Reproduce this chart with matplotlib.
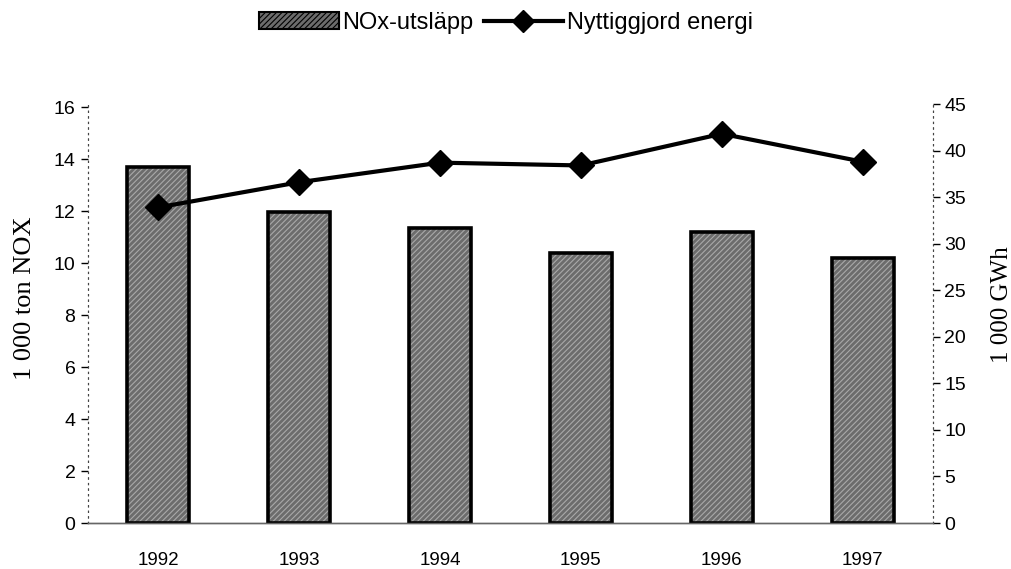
import matplotlib
matplotlib.use("Agg")
import matplotlib.pyplot as plt
from matplotlib.patches import Patch
from matplotlib.lines import Line2D
import numpy as np

years = ["1992", "1993", "1994", "1995", "1996", "1997"]
nox = [13.7, 11.95, 11.35, 10.4, 11.2, 10.2]
energy = [33.9, 36.6, 38.7, 38.4, 41.8, 38.8]
left_ticks = [0, 2, 4, 6, 8, 10, 12, 14, 16]
right_ticks = [0, 5, 10, 15, 20, 25, 30, 35, 40, 45]

sans = ["Liberation Sans Narrow", "Liberation Sans", "DejaVu Sans"]
serif = ["Liberation Serif", "DejaVu Serif"]

plt.rcParams["hatch.linewidth"] = 0.8

fig = plt.figure(figsize=(10.12, 5.69), dpi=100)
ax = fig.add_axes([88/1012, 46/569, 845/1012, 419/569])
ax2 = ax.twinx()

x = np.arange(len(years))
bar_face = "#6c6c6c"
ax.bar(x, nox, width=0.44, color=bar_face, edgecolor="#a9a9a9", linewidth=0, hatch="//////", zorder=2)
ax.bar(x, nox, width=0.44, fill=False, edgecolor="black", linewidth=2.6, zorder=3)

ax2.plot(x, energy, color="black", lw=3, marker="D", markersize=13, zorder=4)

ax.set_xlim(-0.5, len(years) - 0.5)
ax.set_ylim(0, 16 * 419 / 416)
ax2.set_ylim(0, 45)
ax.set_yticks(left_ticks)
ax2.set_yticks(right_ticks)
ax.set_xticks(x)
ax.set_xticklabels(years, fontsize=13.5, family=sans)
ax.tick_params(axis="x", length=0, pad=21)
ax.tick_params(axis="y", length=5, width=1, labelsize=14, pad=4)
ax2.tick_params(axis="y", length=5, width=1, labelsize=14, pad=3)
for lab in ax.get_yticklabels() + ax2.get_yticklabels():
    lab.set_family(sans)

for a in (ax, ax2):
    a.spines["top"].set_visible(False)
    a.spines["left"].set_linestyle((0, (1, 4)))
    a.spines["right"].set_linestyle((0, (1, 4)))
    a.spines["left"].set_color("#444444")
    a.spines["right"].set_color("#444444")
    a.spines["bottom"].set_color("#666666")
    a.spines["bottom"].set_linewidth(1)
ax2.set_zorder(ax.get_zorder() + 1)
ax2.patch.set_visible(False)

ax.set_ylabel("1 000 ton NOX", fontsize=19, family=serif)
ax.yaxis.set_label_coords(-0.061, 0.537)
ax2.set_ylabel("1 000 GWh", fontsize=18, family=serif)
ax2.yaxis.set_label_coords(1.069, 0.52)

handles = [
    Patch(facecolor=bar_face, edgecolor="black", hatch="//////", linewidth=1.5),
    Line2D([0], [0], color="black", lw=3, marker="D", markersize=11),
]
fig.legend(handles, ["NOx-utsläpp", "Nyttiggjord energi"], loc="center",
           bbox_to_anchor=(0.5, 1 - 23/569), ncol=2, frameon=False,
           prop={"family": sans, "size": 17}, handlelength=3.35,
           handletextpad=0.15, columnspacing=0.45)

fig.savefig("out.png", dpi=100)
